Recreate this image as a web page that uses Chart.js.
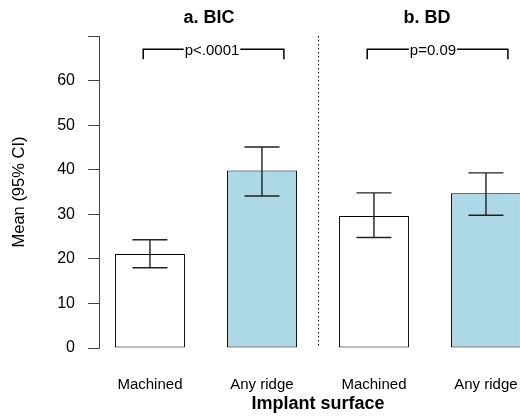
<!DOCTYPE html>
<html><head><meta charset="utf-8">
<script src="https://cdn.jsdelivr.net/npm/chart.js@4/dist/chart.umd.min.js"></script>
<style>html,body{margin:0;padding:0;background:#fff}</style>
</head><body><canvas id="c" width="520" height="419"></canvas>
<script>
const categories = ['Machined', 'Any ridge', 'Machined', 'Any ridge'];
const positions = [1, 2, 3, 4];
const means = [21.1, 39.85, 29.6, 34.7];
const lower = [18.0, 34.1, 24.8, 29.8];
const upper = [24.3, 45.1, 34.8, 39.3];
const barColors = ['#ffffff', '#add8e6', '#ffffff', '#add8e6'];
const yTicks = [0, 10, 20, 30, 40, 50, 60, 70];
const yTickLabels = ['0', '10', '20', '30', '40', '50', '60', ''];
const panelTitles = ['a. BIC', 'b. BD'];
const panelTitlePos = [1.527, 3.473];
const pLabels = ['p<.0001', 'p=0.09'];
const pLabelPos = [1.554, 3.527];
const bracketFrom = [0.94, 2.94];
const bracketTo = [2.196, 4.196];
const bracketTop = [67, 67];
const bracketDrop = [64.8, 64.8];
const separatorAt = 2.5;
const xTitle = 'Implant surface';
const xTitlePos = 2.5;
const yTitle = 'Mean (95% CI)';

const annot = {
  id: 'annot',
  afterDatasetsDraw(chart) {
    const ctx = chart.ctx, xs = chart.scales.x, ys = chart.scales.y;
    ctx.save();
    ctx.strokeStyle = '#222';
    ctx.lineWidth = 1.4;
    positions.forEach((p, i) => {
      const x = xs.getPixelForValue(p);
      const yu = ys.getPixelForValue(upper[i]);
      const yl = ys.getPixelForValue(lower[i]);
      ctx.beginPath();
      ctx.moveTo(x, yu); ctx.lineTo(x, yl);
      ctx.moveTo(x - 17.5, yu); ctx.lineTo(x + 17.5, yu);
      ctx.moveTo(x - 17.5, yl); ctx.lineTo(x + 17.5, yl);
      ctx.stroke();
    });
    ctx.restore();
  },
  afterDraw(chart) {
    const ctx = chart.ctx, xs = chart.scales.x, ys = chart.scales.y;
    const area = chart.chartArea;
    ctx.save();
    const sx = Math.round(xs.getPixelForValue(separatorAt)) + 0.5;
    ctx.strokeStyle = '#000';
    ctx.lineWidth = 1;
    ctx.setLineDash([1.5, 2.5]);
    ctx.beginPath();
    ctx.moveTo(sx, area.top); ctx.lineTo(sx, area.bottom);
    ctx.stroke();
    ctx.setLineDash([]);
    ctx.font = '15px "Liberation Sans", Arial, sans-serif';
    ctx.fillStyle = '#000';
    ctx.textAlign = 'center';
    ctx.textBaseline = 'middle';
    ctx.lineWidth = 1.5;
    ctx.strokeStyle = '#000';
    pLabels.forEach((t, i) => {
      const x1 = xs.getPixelForValue(bracketFrom[i]);
      const x2 = xs.getPixelForValue(bracketTo[i]);
      const yt = ys.getPixelForValue(bracketTop[i]);
      const yd = ys.getPixelForValue(bracketDrop[i]);
      const tx = xs.getPixelForValue(pLabelPos[i]);
      const w = ctx.measureText(t).width;
      ctx.beginPath();
      ctx.moveTo(x1, yd); ctx.lineTo(x1, yt); ctx.lineTo(tx - w / 2 - 1, yt);
      ctx.moveTo(tx + w / 2 + 1, yt); ctx.lineTo(x2, yt); ctx.lineTo(x2, yd);
      ctx.stroke();
      ctx.fillText(t, tx, yt + 1);
    });
    ctx.font = 'bold 18px "Liberation Sans", Arial, sans-serif';
    panelTitles.forEach((t, i) => {
      ctx.fillText(t, xs.getPixelForValue(panelTitlePos[i]), 18);
    });
    ctx.fillText(xTitle, xs.getPixelForValue(xTitlePos), 404);
    ctx.restore();
  }
};

new Chart(document.getElementById('c'), {
  type: 'bar',
  data: {
    datasets: [{
      data: positions.map((p, i) => ({ x: p, y: means[i] })),
      backgroundColor: barColors,
      borderColor: '#000',
      borderWidth: 1,
      borderSkipped: false,
      categoryPercentage: 1,
      barPercentage: 0.625
    }]
  },
  options: {
    responsive: false,
    animation: false,
    devicePixelRatio: 1,
    layout: { padding: { top: 36, right: 0, bottom: 0, left: 0 } },
    plugins: { legend: { display: false }, tooltip: { enabled: false } },
    scales: {
      x: {
        type: 'linear',
        offset: false,
        min: 0.545,
        max: 4.304,
        grid: { display: false, drawTicks: false, offset: false },
        border: { display: false },
        afterBuildTicks(scale) { scale.ticks = positions.map(v => ({ value: v })); },
        afterFit(scale) { scale.height = 71; scale.paddingLeft = 0; scale.paddingRight = 0; },
        ticks: {
          autoSkip: false,
          maxRotation: 0,
          padding: 28,
          color: '#000',
          font: { family: '"Liberation Sans", Arial, sans-serif', size: 15 },
          callback: (v, i) => categories[i]
        }
      },
      y: {
        min: 0,
        max: 70,
        afterBuildTicks(scale) { scale.ticks = yTicks.map(v => ({ value: v })); },
        afterFit(scale) { scale.width = 99; scale.paddingTop = 0; scale.paddingBottom = 0; },
        grid: { display: true, drawOnChartArea: false, drawTicks: true, tickLength: 11, color: '#444', lineWidth: 1 },
        border: { display: true, color: '#444', width: 1 },
        ticks: {
          padding: 13,
          color: '#000',
          font: { family: '"Liberation Sans", Arial, sans-serif', size: 16 },
          callback: (v, i) => yTickLabels[i]
        },
        title: {
          display: true,
          text: yTitle,
          color: '#000',
          font: { family: '"Liberation Sans", Arial, sans-serif', size: 16.5 },
          padding: { top: 10, bottom: 0 }
        }
      }
    }
  },
  plugins: [annot]
});
</script></body></html>
